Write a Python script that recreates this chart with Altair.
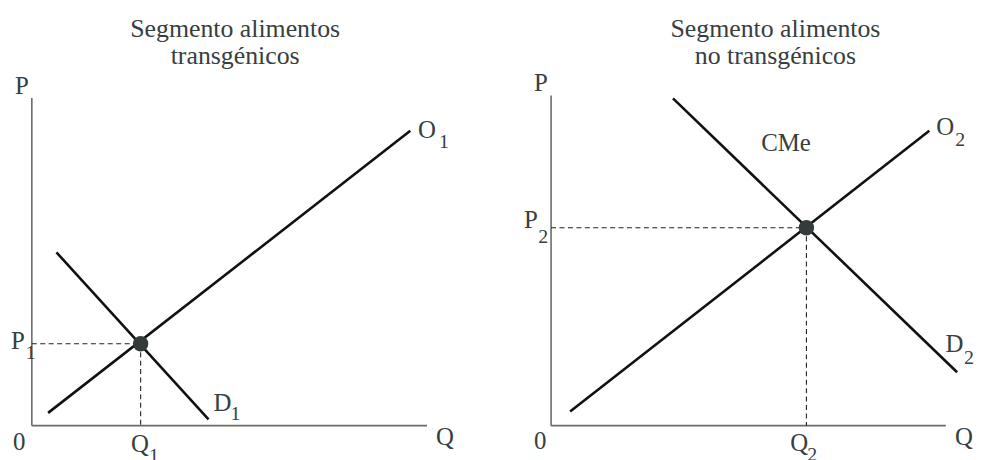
import altair as alt
import pandas as pd

FONT = "Liberation Serif"
TEXT_COLOR = "#364040"

# ---- data (economic units: origin of each diagram at 0,0) ----
title_lines = [["Segmento alimentos", "transgénicos"],
               ["Segmento alimentos", "no transgénicos"]]
title_x = [51.2, 56.5]
title_line_y = [118.8, 110.3]

axis_q_max = [99.5, 99.4]
axis_p_max = [100.0, 100.8]

supply_q = [[4.1, 95.3], [4.8, 95.25]]
supply_p = [[3.9, 90.0], [4.3, 90.0]]
demand_q = [[6.2, 44.5], [30.7, 102.25]]
demand_p = [[52.9, 1.9], [99.9, 16.3]]

eq_q = [27.4, 64.3]
eq_p = [25.0, 60.4]

label_text = [["P", "O", "D", "P", "0", "Q", "Q"],
              ["P", "CMe", "O", "P", "D", "0", "Q", "Q"]]
label_x = [[-4.25, 97.25, 45.75, -5.25, -4.75, 101.75, 25.0],
           [-4.3, 52.9, 97.0, -6.8, 99.3, -4.3, 101.7, 60.25]]
label_y = [[101.2, 87.9, 4.55, 23.3, -7.5, -6.0, -7.9],
           [102.1, 83.7, 88.8, 60.3, 22.4, -7.0, -6.0, -7.6]]

sub_text = [["1", "1", "1", "1"], ["2", "2", "2", "2"]]
sub_x = [[102.5, 50.0, -1.5, 29.5], [101.75, -3.25, 104.0, 64.5]]
sub_y = [[84.8, 1.8, 20.3, -11.2], [85.5, 55.8, 18.8, -10.9]]

x_domains = [[-6, 114], [-6, 104]]
y_domain = [-10, 127]


def panel(i, width):
    xs = alt.Scale(domain=x_domains[i], nice=False, zero=False)
    ys = alt.Scale(domain=y_domain, nice=False, zero=False)

    def xy():
        return dict(x=alt.X("x:Q", scale=xs, axis=None),
                    y=alt.Y("y:Q", scale=ys, axis=None))

    def enc_rule():
        return dict(**xy(), x2="x2:Q", y2="y2:Q")

    axes_df = pd.DataFrame({"x": [0, 0], "y": [0, 0],
                            "x2": [axis_q_max[i], 0], "y2": [0, axis_p_max[i]]})
    curves_df = pd.DataFrame({"x": [supply_q[i][0], demand_q[i][0]],
                              "y": [supply_p[i][0], demand_p[i][0]],
                              "x2": [supply_q[i][1], demand_q[i][1]],
                              "y2": [supply_p[i][1], demand_p[i][1]]})
    dash_df = pd.DataFrame({"x": [0, eq_q[i]], "y": [eq_p[i], eq_p[i]],
                            "x2": [eq_q[i], eq_q[i]], "y2": [eq_p[i], 0]})
    eq_df = pd.DataFrame({"x": [eq_q[i]], "y": [eq_p[i]]})
    lab_df = pd.DataFrame({"t": label_text[i], "x": label_x[i], "y": label_y[i]})
    sub_df = pd.DataFrame({"t": sub_text[i], "x": sub_x[i], "y": sub_y[i]})
    tit_df = pd.DataFrame({"t": title_lines[i], "x": [title_x[i]] * 2,
                           "y": title_line_y})

    axes = alt.Chart(axes_df).mark_rule(color="#6b6b6b", strokeWidth=1.6).encode(**enc_rule())
    dashes = alt.Chart(dash_df).mark_rule(color="#222222", strokeWidth=1.1,
                                          strokeDash=[5, 3.5]).encode(**enc_rule())
    curves = alt.Chart(curves_df).mark_rule(color="#111111", strokeWidth=2.6).encode(**enc_rule())
    dot = alt.Chart(eq_df).mark_circle(color="#333b3b", size=240, opacity=1).encode(**xy())
    labels = alt.Chart(lab_df).mark_text(font=FONT, fontSize=25, color=TEXT_COLOR,
                                         align="left", baseline="alphabetic").encode(
        **xy(), text="t:N")
    subs = alt.Chart(sub_df).mark_text(font=FONT, fontSize=20, color=TEXT_COLOR,
                                       align="left", baseline="alphabetic").encode(
        **xy(), text="t:N")
    titles = alt.Chart(tit_df).mark_text(font=FONT, fontSize=26, color=TEXT_COLOR,
                                         align="center", baseline="alphabetic").encode(
        **xy(), text="t:N")

    return alt.layer(axes, dashes, curves, dot, labels, subs, titles).properties(
        width=width, height=452)


chart = alt.hconcat(panel(0, 480), panel(1, 440), spacing=43, bounds="flush").properties(
    padding=0, background="white"
).configure_view(stroke=None)

chart.save("out.html", embed_options={"renderer": "svg", "actions": False})
